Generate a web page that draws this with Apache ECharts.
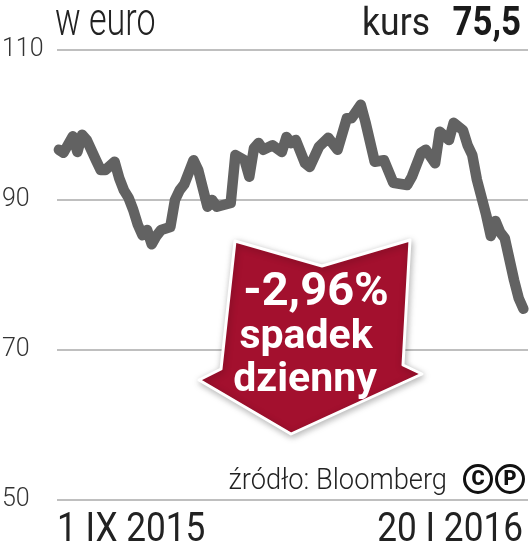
<!DOCTYPE html>
<html>
<head>
<meta charset="utf-8">
<title>kurs</title>
<script src="https://cdn.jsdelivr.net/npm/echarts@6/dist/echarts.min.js"></script>
<style>
  html, body { margin: 0; padding: 0; background: #fff; }
  #chart { width: 531px; height: 551px; }
</style>
</head>
<body>
<div id="chart"></div>
<script>
// trading day index (1 IX 2015 = 0 ... 20 I 2016 = 100) and price in euro
var days = [0, 1, 3, 4, 5, 6, 8, 9, 10, 12, 13, 14, 15, 16, 17, 18, 19, 20, 21, 22,
  24, 25, 26, 27, 29, 30, 32, 33, 34, 37, 38, 40, 41, 42, 43, 44, 46, 48, 49, 50,
  51, 53, 54, 56, 58, 60, 62, 63, 65, 66, 68, 70, 72, 75, 76, 78, 79, 81, 82, 84,
  85, 87, 88, 89, 90, 92, 93, 94, 95, 96, 98, 99, 100]
var prices = [96.7, 96.3, 98.5, 96.4, 98.7, 98.0, 95.3, 94.0, 94.0, 95.1, 92.9, 91.3, 90.3, 88.7, 86.7, 85.3, 86.0, 84.1, 85.2, 86.0,
  86.4, 90.0, 91.3, 92.1, 95.3, 94.0, 89.1, 90.0, 89.1, 89.6, 96.0, 95.3, 93.1, 96.9, 97.6, 96.7, 97.3, 96.4, 98.4, 97.6,
  98.0, 94.9, 94.4, 97.1, 98.3, 96.7, 100.9, 100.9, 102.7, 100.4, 95.1, 95.3, 92.3, 92.0, 93.1, 96.3, 96.7, 94.9, 99.1, 98.0,
  100.3, 99.3, 97.3, 96.0, 92.7, 88.0, 85.2, 87.2, 85.7, 84.9, 79.3, 76.9, 75.5]
var yMin = 50
var yMax = 110
var yStep = 20
var startLabel = '1 IX 2015'
var endLabel = '20 I 2016'
var unitLabel = 'w euro'
var lastPrice = '75,5'
var changeLabel = ['-2,96%', 'spadek', 'dzienny']
var sourceLabel = 'źródło: Bloomberg'

var chart = echarts.init(document.getElementById('chart'), null, { renderer: 'canvas' })

var points = days.map(function (d, i) { return [d, prices[i]] })

var arrow = [[235, 241], [322, 266], [410, 240], [403, 365], [422, 374], [291, 434], [199, 380], [221, 369]]

function txt(text, x, y, size, weight, align, color, sx) {
  return {
    type: 'text',
    x: x,
    y: y,
    scaleX: sx || 1,
    z: 100,
    style: {
      text: text,
      fill: color || '#222',
      fontSize: size,
      fontWeight: weight,
      fontFamily: 'Roboto',
      textAlign: align,
      align: align,
      textVerticalAlign: 'middle',
      verticalAlign: 'middle'
    }
  }
}

chart.setOption({
  animation: false,
  grid: {
    left: 57,
    right: 3,
    top: 50,
    bottom: 51,
    outerBoundsMode: 'none'
  },
  xAxis: {
    type: 'value',
    min: -0.4,
    max: 101,
    show: false
  },
  yAxis: {
    type: 'value',
    min: yMin,
    max: yMax,
    interval: yStep,
    axisLine: { show: false },
    axisTick: { show: false },
    axisLabel: {
      align: 'left',
      margin: 55,
      fontSize: 25,
      fontWeight: 300,
      fontFamily: 'Roboto',
      color: '#333',
      showMinLabel: true,
      showMaxLabel: true
    },
    splitLine: {
      lineStyle: { color: '#aaa', width: 1.5 }
    }
  },
  series: [{
    type: 'line',
    data: points,
    symbol: 'none',
    lineStyle: {
      color: '#626262',
      width: 10.5,
      cap: 'round',
      join: 'round'
    },
    z: 5
  }],
  graphic: [
    txt(unitLabel, 55, 23, 46, 300, 'left', '#222', 0.74),
    txt('kurs', 430, 25, 39, 400, 'right', '#222', 0.91),
    txt(lastPrice, 521, 25, 41, 700, 'right', '#1a1a1a', 0.85),
    {
      type: 'polygon',
      z: 90,
      shape: { points: arrow },
      style: {
        fill: '#a3102e',
        stroke: '#fff',
        lineWidth: 3,
        lineJoin: 'round',
        shadowBlur: 7,
        shadowColor: 'rgba(0,0,0,0.28)',
        shadowOffsetX: 1,
        shadowOffsetY: 2
      }
    },
    txt(changeLabel[0], 316, 293, 47, 700, 'center', '#fff'),
    txt(changeLabel[1], 306, 338, 41, 700, 'center', '#fff'),
    txt(changeLabel[2], 305, 381, 41, 700, 'center', '#fff'),
    txt(sourceLabel, 447, 481, 30, 300, 'right', '#222', 0.91),
    {
      type: 'circle',
      z: 100,
      shape: { cx: 478, cy: 479, r: 13.5 },
      style: { fill: '#fff', stroke: '#111', lineWidth: 3 }
    },
    {
      type: 'circle',
      z: 100,
      shape: { cx: 510, cy: 479, r: 13.5 },
      style: { fill: '#fff', stroke: '#111', lineWidth: 3 }
    },
    txt('C', 478, 480, 20, 900, 'center', '#111'),
    txt('P', 510, 480, 20, 900, 'center', '#111'),
    txt(startLabel, 57, 531, 40, 400, 'left', '#222', 0.88),
    txt(endLabel, 523, 531, 40, 400, 'right', '#222', 0.88)
  ]
})
</script>
</body>
</html>
